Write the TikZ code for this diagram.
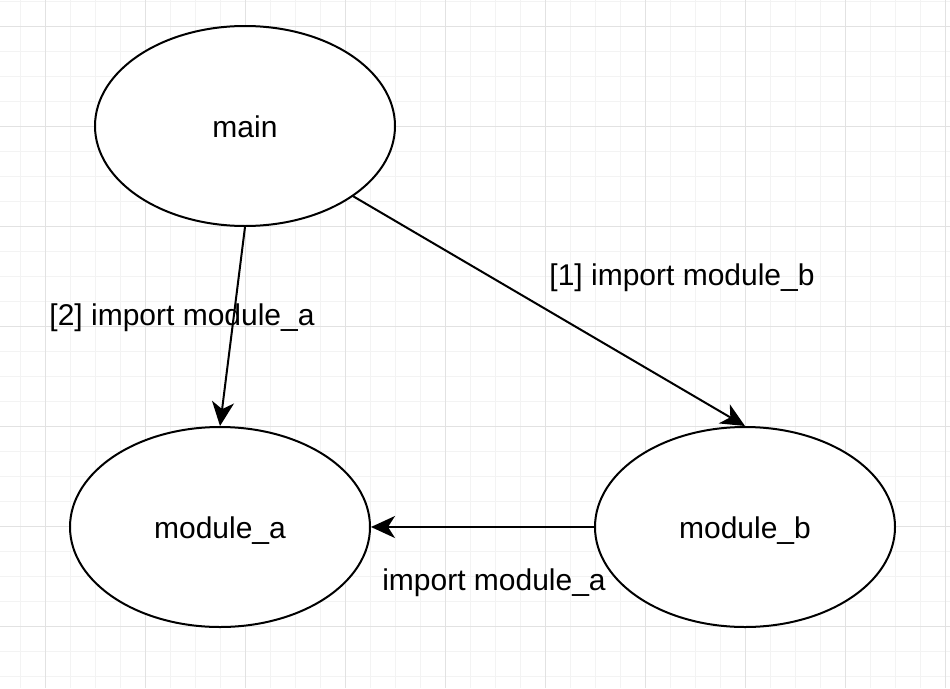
\documentclass[tikz,border=0pt]{standalone}
\usepackage{fontspec}
\setmainfont{Liberation Sans}
\usepackage{tikz}
\usetikzlibrary{positioning, arrows.meta}
\usetikzlibrary{shapes,shapes.geometric}

\definecolor{minorgrid}{HTML}{F3F3F3}
\definecolor{majorgrid}{HTML}{E2E2E2}

\tikzset{
  module/.style={ellipse, draw=black, line width=2pt, fill=white,
    minimum width=300pt, minimum height=200pt, inner sep=0pt,
    text height=26pt, text depth=4pt,
    font=\fontsize{30}{36}\selectfont},
  imp/.style={line width=2pt, -{Stealth[length=24pt, width=22pt, inset=7pt]}},
  lbl/.style={inner sep=0pt, text height=24pt, text depth=4pt,
    font=\fontsize{30}{36}\selectfont}
}

\begin{document}
\begin{tikzpicture}[x=1pt, y=-1pt]
	\useasboundingbox (0,0) rectangle (950,688);
	\fill[white] (0,0) rectangle (950,688);
	% grid
	\foreach \x in {20,45,...,945} \draw[minorgrid, line width=1pt] (\x,0) -- (\x,688);
	\foreach \y in {1,26,...,676} \draw[minorgrid, line width=1pt] (0,\y) -- (950,\y);
	\foreach \x in {45,145,...,945} \draw[majorgrid, line width=1pt] (\x,0) -- (\x,688);
	\foreach \y in {26,126,...,626} \draw[majorgrid, line width=1pt] (0,\y) -- (950,\y);

	\node[module] (main) at (245,126) {main};
	\node[module] (ma) at (220,527) {module\_a};
	\node[module, right=223pt of ma] (mb) {module\_b};

	\draw[imp] (main.south) -- (ma.north);
	\draw[imp] (main.-33.6) -- (mb.north);
	\draw[imp] (mb.west) -- (ma.east);

	\node[lbl] (l2) at (182,315) {[2] import module\_a};
	\node[lbl] (l1) at (682,275) {[1] import module\_b};
	\node[lbl] (l3) at (494,580) {import module\_a};
\end{tikzpicture}
\end{document}
